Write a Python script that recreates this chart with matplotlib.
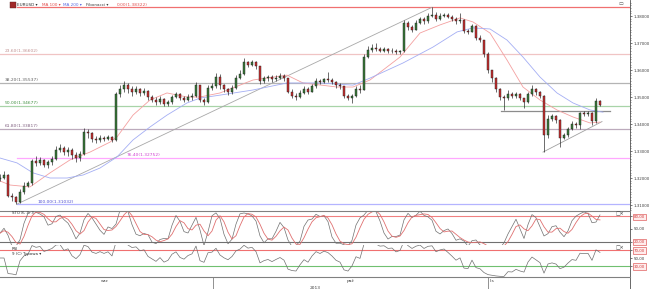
import matplotlib
matplotlib.use("Agg")
import matplotlib.pyplot as plt
from matplotlib.patches import Rectangle
from matplotlib.ticker import MultipleLocator
import numpy as np
import pandas as pd

# ---------------------------------------------------------------------------
# Data (one candle every 4 px of the original)
# ---------------------------------------------------------------------------
first_open = 1.3195
closes = [
    1.3200, 1.3212, 1.3135, 1.3128, 1.3112, 1.3150, 1.3172, 1.3180, 1.3262, 1.3255,
    1.3265, 1.3248, 1.3258, 1.3270, 1.3305, 1.3310, 1.3295, 1.3305, 1.3285, 1.3275,
    1.3290, 1.3370, 1.3365, 1.3345, 1.3340, 1.3350, 1.3345, 1.3352, 1.3342, 1.3510,
    1.3530, 1.3545, 1.3530, 1.3520, 1.3528, 1.3515, 1.3522, 1.3500, 1.3490, 1.3480,
    1.3492, 1.3475, 1.3480, 1.3500, 1.3510, 1.3495, 1.3490, 1.3500, 1.3505, 1.3545,
    1.3490, 1.3480, 1.3535, 1.3540, 1.3575, 1.3545, 1.3530, 1.3520, 1.3535, 1.3570,
    1.3585, 1.3630, 1.3620, 1.3628, 1.3615, 1.3560, 1.3570, 1.3575, 1.3565, 1.3572,
    1.3578, 1.3570, 1.3520, 1.3505, 1.3500, 1.3515, 1.3530, 1.3520, 1.3540, 1.3560,
    1.3555, 1.3565, 1.3562, 1.3555, 1.3545, 1.3540, 1.3505, 1.3495, 1.3505, 1.3530,
    1.3525, 1.3650, 1.3675, 1.3682, 1.3678, 1.3672, 1.3676, 1.3670, 1.3672, 1.3665,
    1.3670, 1.3775, 1.3760, 1.3750, 1.3775, 1.3790, 1.3780, 1.3800, 1.3805, 1.3790,
    1.3800, 1.3805, 1.3798, 1.3790, 1.3780, 1.3785, 1.3745, 1.3742, 1.3762, 1.3720,
    1.3710, 1.3660, 1.3600, 1.3570, 1.3530, 1.3500, 1.3495, 1.3510, 1.3505, 1.3512,
    1.3495, 1.3482, 1.3510, 1.3530, 1.3518, 1.3505, 1.3360, 1.3420, 1.3428, 1.3415,
    1.3350, 1.3358, 1.3380, 1.3400, 1.3395, 1.3440, 1.3438, 1.3440, 1.3410, 1.3485,
    1.3472,
]
highs = [
    1.3215, 1.3225, 1.3215, 1.3145, 1.3135, 1.3160, 1.3185, 1.3190, 1.3270, 1.3280,
    1.3278, 1.3270, 1.3268, 1.3280, 1.3320, 1.3325, 1.3318, 1.3315, 1.3310, 1.3295,
    1.3300, 1.3385, 1.3382, 1.3372, 1.3355, 1.3358, 1.3356, 1.3360, 1.3356, 1.3520,
    1.3545, 1.3560, 1.3552, 1.3540, 1.3540, 1.3535, 1.3535, 1.3525, 1.3508, 1.3500,
    1.3505, 1.3495, 1.3490, 1.3508, 1.3520, 1.3515, 1.3505, 1.3510, 1.3515, 1.3557,
    1.3545, 1.3495, 1.3545, 1.3551, 1.3589, 1.3585, 1.3550, 1.3535, 1.3545, 1.3580,
    1.3600, 1.3643, 1.3635, 1.3636, 1.3632, 1.3615, 1.3578, 1.3582, 1.3580, 1.3580,
    1.3590, 1.3585, 1.3572, 1.3528, 1.3515, 1.3525, 1.3540, 1.3538, 1.3548, 1.3570,
    1.3568, 1.3572, 1.3593, 1.3570, 1.3560, 1.3552, 1.3542, 1.3510, 1.3512, 1.3540,
    1.3545, 1.3660, 1.3688, 1.3695, 1.3700, 1.3685, 1.3684, 1.3680, 1.3682, 1.3676,
    1.3675, 1.3785, 1.3782, 1.3765, 1.3785, 1.3795, 1.3795, 1.3810, 1.3832, 1.3815,
    1.3812, 1.3812, 1.3810, 1.3805, 1.3795, 1.3811, 1.3790, 1.3752, 1.3770, 1.3765,
    1.3728, 1.3712, 1.3665, 1.3600, 1.3575, 1.3535, 1.3508, 1.3526, 1.3520, 1.3520,
    1.3515, 1.3498, 1.3518, 1.3544, 1.3535, 1.3522, 1.3508, 1.3432, 1.3438, 1.3432,
    1.3418, 1.3366, 1.3390, 1.3410, 1.3408, 1.3446, 1.3448, 1.3450, 1.3445, 1.3496,
    1.3490,
]
lows = [
    1.3190, 1.3195, 1.3128, 1.3115, 1.3103, 1.3108, 1.3140, 1.3165, 1.3175, 1.3245,
    1.3250, 1.3240, 1.3238, 1.3250, 1.3265, 1.3295, 1.3285, 1.3280, 1.3270, 1.3260,
    1.3262, 1.3285, 1.3350, 1.3335, 1.3330, 1.3335, 1.3338, 1.3340, 1.3335, 1.3338,
    1.3500, 1.3520, 1.3515, 1.3505, 1.3510, 1.3502, 1.3508, 1.3490, 1.3480, 1.3472,
    1.3475, 1.3468, 1.3466, 1.3475, 1.3495, 1.3488, 1.3482, 1.3485, 1.3490, 1.3500,
    1.3482, 1.3470, 1.3478, 1.3525, 1.3535, 1.3530, 1.3520, 1.3507, 1.3510, 1.3530,
    1.3565, 1.3580, 1.3610, 1.3615, 1.3605, 1.3550, 1.3553, 1.3560, 1.3556, 1.3560,
    1.3565, 1.3560, 1.3515, 1.3495, 1.3489, 1.3495, 1.3510, 1.3512, 1.3518, 1.3535,
    1.3548, 1.3552, 1.3555, 1.3548, 1.3535, 1.3530, 1.3498, 1.3488, 1.3478, 1.3500,
    1.3515, 1.3525, 1.3645, 1.3668, 1.3670, 1.3665, 1.3666, 1.3662, 1.3664, 1.3660,
    1.3658, 1.3668, 1.3750, 1.3741, 1.3748, 1.3770, 1.3770, 1.3775, 1.3795, 1.3780,
    1.3785, 1.3795, 1.3792, 1.3782, 1.3772, 1.3775, 1.3738, 1.3735, 1.3740, 1.3710,
    1.3702, 1.3650, 1.3590, 1.3555, 1.3520, 1.3490, 1.3452, 1.3490, 1.3495, 1.3496,
    1.3488, 1.3460, 1.3478, 1.3505, 1.3508, 1.3498, 1.3296, 1.3350, 1.3410, 1.3405,
    1.3315, 1.3345, 1.3352, 1.3378, 1.3385, 1.3380, 1.3428, 1.3430, 1.3396, 1.3405,
    1.3465,
]

# moving averages sampled along the drawn lines (candle index, price)
ma100_idx = [0, 2.5, 7.5, 12.5, 17.5, 22.5, 27.5, 29.25, 33.25, 37.5, 41.75, 46.75,
             50, 55, 63.25, 71.75, 75.75, 84.25, 88.25, 92.5, 100, 105, 110, 115,
             118.25, 122.5, 126.75, 130.75, 135, 139.25, 143.25, 147.5, 150]
ma100 = [1.3189, 1.3174, 1.3167, 1.3219, 1.3267, 1.3296, 1.3333, 1.3352, 1.3433,
         1.3489, 1.3515, 1.3500, 1.3500, 1.3515, 1.3563, 1.3581, 1.3552, 1.3537,
         1.3537, 1.3563, 1.3648, 1.3737, 1.3767, 1.3793, 1.3778, 1.3737, 1.3637,
         1.3537, 1.3489, 1.3452, 1.3426, 1.3404, 1.3407]
ma200_idx = [0, 4.25, 8.25, 12.5, 16.75, 20.75, 25, 29.25, 33.25, 37.5, 41.75, 46.75,
             50, 55, 63.25, 71.75, 80, 88.25, 92.5, 100.75, 108.25, 114.25, 118.25,
             122.5, 126.75, 130.75, 135, 139.25, 143.25, 147.5, 150.75]
ma200 = [1.3274, 1.3256, 1.3219, 1.3200, 1.3200, 1.3211, 1.3237, 1.3278, 1.3341,
         1.3389, 1.3433, 1.3478, 1.3496, 1.3507, 1.3526, 1.3552, 1.3552, 1.3544,
         1.3570, 1.3626, 1.3685, 1.3741, 1.3756, 1.3752, 1.3711, 1.3648, 1.3574,
         1.3515, 1.3478, 1.3452, 1.3444]

fib_pct = ["0.00", "23.60", "38.20", "50.00", "61.80", "76.40", "100.00"]
fib_levels = [1.38322, 1.36602, 1.35537, 1.34677, 1.33817, 1.32752, 1.31032]
fib_colors = ["#f07070", "#f0c4c4", "#b4b4b4", "#a8d4a8", "#bcaabc", "#ffa8ff", "#b4b4ff"]
fib_text_colors = ["#e05050", "#c09090", "#606060", "#409040", "#806080", "#d040d0", "#5050d0"]
fib_label_x = [29.25, 1.25, 1.25, 1.25, 1.25, 31.75, 9.5]
fib_line_start = [4.25, 0, 0, 0, 0, 4.25, 4.25]

price_ticks = [1.31, 1.32, 1.33, 1.34, 1.35, 1.36, 1.37, 1.38]
month_labels = ["wrz", "paź", "lis"]
month_label_idx = [26.25, 87.5, 122.5]
month_sep_idx = [53.25, 122]
year_label = "2013"
year_label_idx = 78.75

# ---------------------------------------------------------------------------
# Indicators from the candles
# ---------------------------------------------------------------------------
c = pd.Series(closes)
h = pd.Series(highs)
l = pd.Series(lows)
opens = [first_open] + closes[:-1]

hh = h.rolling(4, min_periods=1).max()
ll = l.rolling(4, min_periods=1).min()
raw_k = 100 * (c - ll) / (hh - ll)
stoch_k = raw_k.rolling(2, min_periods=1).mean()
stoch_d = stoch_k.rolling(3, min_periods=1).mean()

delta = c.diff().fillna(0)
gain = delta.clip(lower=0).ewm(alpha=1 / 5, adjust=False).mean()
loss = (-delta.clip(upper=0)).ewm(alpha=1 / 5, adjust=False).mean()
rsi = (100 - 100 / (1 + gain / loss.replace(0, np.nan))).fillna(50)

# ---------------------------------------------------------------------------
# Figure layout in pixels of the 653x289 screenshot
# ---------------------------------------------------------------------------
W, H = 653, 289
AX_R = 630


def rect(x0, y0, x1, y1):
    return [x0 / W, 1 - y1 / H, (x1 - x0) / W, (y1 - y0) / H]


def ftext(x, y, s, **kw):
    fig.text(x / W, 1 - y / H, s, **kw)


fig = plt.figure(figsize=(W / 100, H / 100), dpi=100, facecolor="white")
ax = fig.add_axes(rect(0, 0, AX_R, 211))
ax_st = fig.add_axes(rect(0, 211, AX_R, 245), sharex=ax)
ax_rsi = fig.add_axes(rect(0, 245, AX_R, 277), sharex=ax)
ax_t = fig.add_axes(rect(0, 277, AX_R, 289), sharex=ax)

XMAX = AX_R / 4
for a in (ax, ax_st, ax_rsi, ax_t):
    a.set_facecolor("white")
    for side in ("top", "bottom", "left"):
        a.spines[side].set_visible(False)
    a.spines["right"].set_color("#505050")
    a.spines["right"].set_linewidth(0.6)
    a.yaxis.tick_right()
    a.tick_params(axis="x", bottom=False, labelbottom=False)
    a.tick_params(axis="y", which="major", length=1.5, width=0.5, pad=1.2,
                  labelsize=2.9, colors="#404040")
    a.tick_params(axis="y", which="minor", length=1, width=0.4, colors="#404040")
ax.set_xlim(0, XMAX)

# --- main price panel ------------------------------------------------------
ax.set_ylim(1.30778, 1.38593)
ax.set_yticks(price_ticks)
ax.set_yticklabels([f"{v:.5f}".replace(".", ",") for v in price_ticks])
ax.yaxis.set_minor_locator(MultipleLocator(0.001))

for lvl, pct, col, tcol, lx, x0 in zip(fib_levels, fib_pct, fib_colors,
                                       fib_text_colors, fib_label_x, fib_line_start):
    ax.plot([x0, XMAX], [lvl, lvl], color=col, lw=0.9, zorder=1)
    ax.text(lx, lvl + 0.0002, f"{pct}({lvl:.5f})", fontsize=3.2, color=tcol,
            va="bottom", ha="left", zorder=5)

# fibonacci diagonal, neckline and rising support
ax.plot([4.25, 108], [fib_levels[6], fib_levels[0]], color="#a8a8a8", lw=0.6, zorder=1)
ax.plot([125.25, 152.5], [1.3449, 1.3449], color="#8c8c8c", lw=0.9, zorder=1)
ax.plot([135.75, 150.5], [1.3296, 1.3409], color="#a0a0a0", lw=0.6, zorder=1)

ax.plot(ma100_idx, ma100, color="#f4a0a0", lw=0.6, zorder=2)
ax.plot(ma200_idx, ma200, color="#a4aef4", lw=0.6, zorder=2)

idx = np.arange(len(closes))
o = np.array(opens)
cl = np.array(closes)
hi = np.maximum.reduce([np.array(highs), o, cl])
lo = np.minimum.reduce([np.array(lows), o, cl])
ax.vlines(idx, lo, hi, color="#1a1a1a", lw=0.45, zorder=3)
body_col = np.where(cl >= o, "#3a7a3a", "#c83030")
bottom = np.minimum(o, cl)
height = np.maximum(np.abs(cl - o), 0.00008)
ax.bar(idx, height, bottom=bottom, width=0.7, color=body_col,
       edgecolor="#1a1a1a", linewidth=0.3, zorder=4)

# --- stochastic panel --------------------------------------------------------
ax_st.set_ylim(12.3, 91.7)
ax_st.spines["top"].set_visible(True)
ax_st.spines["top"].set_color("#808080")
ax_st.spines["top"].set_linewidth(0.8)
ax_st.axhline(80, color="#f08080", lw=0.8)
ax_st.axhline(20, color="#707070", lw=0.8)
ax_st.plot(idx, stoch_k, color="#707070", lw=0.5)
ax_st.plot(idx, stoch_d, color="#e07070", lw=0.6)
ax_st.set_yticks([20, 50, 80])
ax_st.set_yticklabels(["20,00", "50,00", "80,00"])

# --- RSI panel ---------------------------------------------------------------
ax_rsi.set_ylim(2.5, 82.5)
ax_rsi.axhline(70, color="#f07070", lw=0.8)
ax_rsi.axhline(30, color="#70c070", lw=0.8)
ax_rsi.plot(idx, rsi, color="#707070", lw=0.5)
ax_rsi.set_yticks([30, 50, 70])
ax_rsi.set_yticklabels(["30,00", "50,00", "70,00"])

for a, boxed in ((ax_st, ("20,00", "80,00")), (ax_rsi, ("30,00", "70,00"))):
    for lab in a.get_yticklabels():
        if lab.get_text() in boxed:
            lab.set_color("#d04040")
            lab.set_bbox(dict(boxstyle="square,pad=0.25", fc="#ffecec",
                              ec="#e06060", lw=0.5))

# --- time strip --------------------------------------------------------------
ax_t.set_ylim(0, 1)
ax_t.set_yticks([])
ax_t.spines["top"].set_visible(True)
ax_t.spines["top"].set_color("#808080")
ax_t.spines["top"].set_linewidth(0.8)
for xs in month_sep_idx:
    ax_t.axvline(xs, color="#808080", lw=0.6)
for name, xm in zip(month_labels, month_label_idx):
    ax_t.text(xm, 0.65, name, fontsize=3.2, color="#404040",
              ha="left" if name == "lis" else "center", va="center")
ax_t.text(year_label_idx, 0.12, year_label, fontsize=3.2, color="#404040", ha="center",
          va="center")

# --- header texts --------------------------------------------------------------
fig.patches.append(Rectangle((10 / W, 1 - 8 / H), 6 / W, 6 / H, transform=fig.transFigure,
                             fc="#a02828", ec="#602020", lw=0.3))
ftext(17, 5, "EURUSD ▾", fontsize=3.0, color="#303030", va="center")
ftext(42, 5, "MA 100 ▾", fontsize=3.0, color="#e04848", va="center")
ftext(63, 5, "MA 200 ▾", fontsize=3.0, color="#5868e0", va="center")
ftext(86, 5, "Fibonacci ▾", fontsize=3.0, color="#404040", va="center")
ftext(619, 4, "▭", fontsize=3.5, color="#505050", va="center")

ftext(12, 213.5, "STO 8, 3, 3", fontsize=2.9, color="#303030", va="center")
ftext(12, 248.5, "RSI", fontsize=2.9, color="#303030", va="center")
ftext(12, 253.5, "9 (C) Typowa ▾", fontsize=2.9, color="#303030", va="center")
ftext(616, 214, "□×", fontsize=3.5, color="#404040", va="center")
ftext(616, 248, "□×", fontsize=3.5, color="#404040", va="center")

fig.savefig("out.png", dpi=100, facecolor="white")
